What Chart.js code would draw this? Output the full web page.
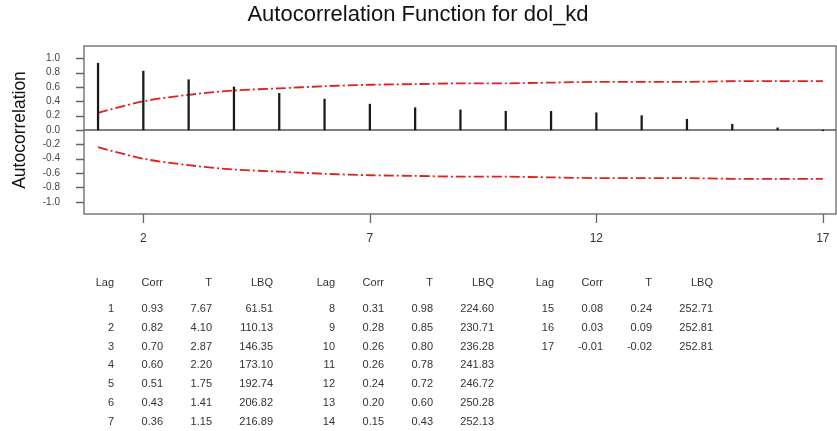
<!DOCTYPE html>
<html lang="en">
<head>
    <meta charset="UTF-8">
    <title>Autocorrelation Function for dol_kd</title>
    <style>
        html, body { margin: 0; padding: 0; background: #fff; }
        #wrap { width: 837px; height: 431px; }
    </style>
</head>
<body>
    <div id="wrap"><canvas id="acf" width="837" height="431"></canvas></div>

    <script src="https://cdn.jsdelivr.net/npm/chart.js"></script>
    <script>
        // datos
        const lags = [1, 2, 3, 4, 5, 6, 7, 8, 9, 10, 11, 12, 13, 14, 15, 16, 17];
        const corr = [0.93, 0.82, 0.70, 0.60, 0.51, 0.43, 0.36, 0.31, 0.28, 0.26, 0.26, 0.24, 0.20, 0.15, 0.08, 0.03, -0.01];
        const tStat = [7.67, 4.10, 2.87, 2.20, 1.75, 1.41, 1.15, 0.98, 0.85, 0.80, 0.78, 0.72, 0.60, 0.43, 0.24, 0.09, -0.02];
        const lbq = [61.51, 110.13, 146.35, 173.10, 192.74, 206.82, 216.89, 224.60, 230.71, 236.28, 241.83, 246.72, 250.28, 252.13, 252.71, 252.81, 252.81];
        const limite = [0.24, 0.40, 0.49, 0.55, 0.58, 0.61, 0.63, 0.64, 0.65, 0.65, 0.66, 0.67, 0.67, 0.67, 0.68, 0.68, 0.68];
        const xTicks = [2, 7, 12, 17];
        const yTicks = [-1.0, -0.8, -0.6, -0.4, -0.2, 0.0, 0.2, 0.4, 0.6, 0.8, 1.0];
        const cabecera = ['Lag', 'Corr', 'T', 'LBQ'];

        const fuente = '"Liberation Sans", Arial, sans-serif';

        // caja, marcas de los ejes, linea de cero y tabla
        const extras = {
            id: 'extras',
            beforeDatasetsDraw(chart) {
                const { ctx, chartArea: a, scales } = chart;
                const y0 = scales.y.getPixelForValue(0);
                ctx.save();
                ctx.strokeStyle = '#555';
                ctx.lineWidth = 1.3;
                ctx.beginPath();
                ctx.moveTo(a.left, y0);
                ctx.lineTo(a.right, y0);
                ctx.stroke();
                ctx.restore();
            },
            afterDraw(chart) {
                const { ctx, chartArea: a, scales } = chart;
                ctx.save();
                ctx.strokeStyle = '#666';
                ctx.lineWidth = 1.3;
                ctx.strokeRect(a.left, a.top, a.right - a.left, a.bottom - a.top);

                ctx.beginPath();
                yTicks.forEach(v => {
                    const py = Math.round(scales.y.getPixelForValue(v)) + 0.5;
                    ctx.moveTo(a.left - 8, py);
                    ctx.lineTo(a.left, py);
                });
                xTicks.forEach(v => {
                    const px = Math.round(scales.x.getPixelForValue(v)) + 0.5;
                    ctx.moveTo(px, a.bottom);
                    ctx.lineTo(px, a.bottom + 9);
                });
                ctx.stroke();

                ctx.fillStyle = '#333';
                ctx.font = '11px ' + fuente;
                ctx.textAlign = 'right';
                ctx.textBaseline = 'middle';
                const cols = [114, 163, 212, 273];
                const grupos = [0, 221, 440];
                const filas = 7;
                grupos.forEach((dx, g) => {
                    cabecera.forEach((h, c) => ctx.fillText(h, cols[c] + dx, 283));
                    for (let r = 0; r < filas; r++) {
                        const i = g * filas + r;
                        if (i >= lags.length) break;
                        const y = 309 + r * 18.8;
                        ctx.fillText(String(lags[i]), cols[0] + dx, y);
                        ctx.fillText(corr[i].toFixed(2), cols[1] + dx, y);
                        ctx.fillText(tStat[i].toFixed(2), cols[2] + dx, y);
                        ctx.fillText(lbq[i].toFixed(2), cols[3] + dx, y);
                    }
                });
                ctx.restore();
            }
        };

        const ctx = document.getElementById('acf').getContext('2d');
        const grafica = new Chart(ctx, {
            type: 'bar',
            data: {
                datasets: [{
                    type: 'bar',
                    label: 'Corr',
                    data: lags.map((l, i) => ({ x: l, y: corr[i] })),
                    backgroundColor: '#1a1a1a',
                    barThickness: 1.6
                }, {
                    type: 'line',
                    label: 'Upper',
                    data: lags.map((l, i) => ({ x: l, y: limite[i] })),
                    borderColor: '#e0201c',
                    borderWidth: 1.8,
                    borderDash: [10, 3, 2, 3],
                    pointRadius: 0,
                    tension: 0.3,
                    fill: false
                }, {
                    type: 'line',
                    label: 'Lower',
                    data: lags.map((l, i) => ({ x: l, y: -limite[i] })),
                    borderColor: '#e0201c',
                    borderWidth: 1.8,
                    borderDash: [10, 3, 2, 3],
                    pointRadius: 0,
                    tension: 0.3,
                    fill: false
                }]
            },
            options: {
                responsive: false,
                animation: false,
                layout: { padding: { left: 0, right: 1, top: 0, bottom: 177 } },
                plugins: {
                    legend: { display: false },
                    tooltip: { enabled: false },
                    title: {
                        display: true,
                        text: 'Autocorrelation Function for dol_kd',
                        color: '#111',
                        font: { family: fuente, size: 22, weight: 'normal', lineHeight: 1.2 },
                        padding: { top: 2, bottom: 17.6 }
                    }
                },
                scales: {
                    x: {
                        type: 'linear',
                        min: 0.69,
                        max: 17.29,
                        offset: false,
                        afterBuildTicks: s => { s.ticks = xTicks.map(v => ({ value: v })); },
                        afterFit: s => { s.height = 40; s.paddingLeft = 0; s.paddingRight = 0; },
                        grid: { display: false, offset: false },
                        border: { display: false },
                        ticks: { color: '#333', font: { family: fuente, size: 12 }, padding: 9, maxRotation: 0 }
                    },
                    y: {
                        min: -1.17,
                        max: 1.17,
                        afterBuildTicks: s => { s.ticks = yTicks.map(v => ({ value: v })); },
                        afterFit: s => { s.width = 84; s.paddingTop = 0; s.paddingBottom = 0; },
                        grid: { display: false },
                        border: { display: false },
                        ticks: {
                            color: '#444',
                            font: { family: fuente, size: 10 },
                            padding: 16,
                            callback: v => v.toFixed(1)
                        },
                        title: {
                            display: true,
                            text: 'Autocorrelation',
                            color: '#111',
                            font: { family: fuente, size: 17.5 },
                            padding: { top: 10, bottom: 0 }
                        }
                    }
                }
            },
            plugins: [extras]
        });
    </script>
</body>
</html>
